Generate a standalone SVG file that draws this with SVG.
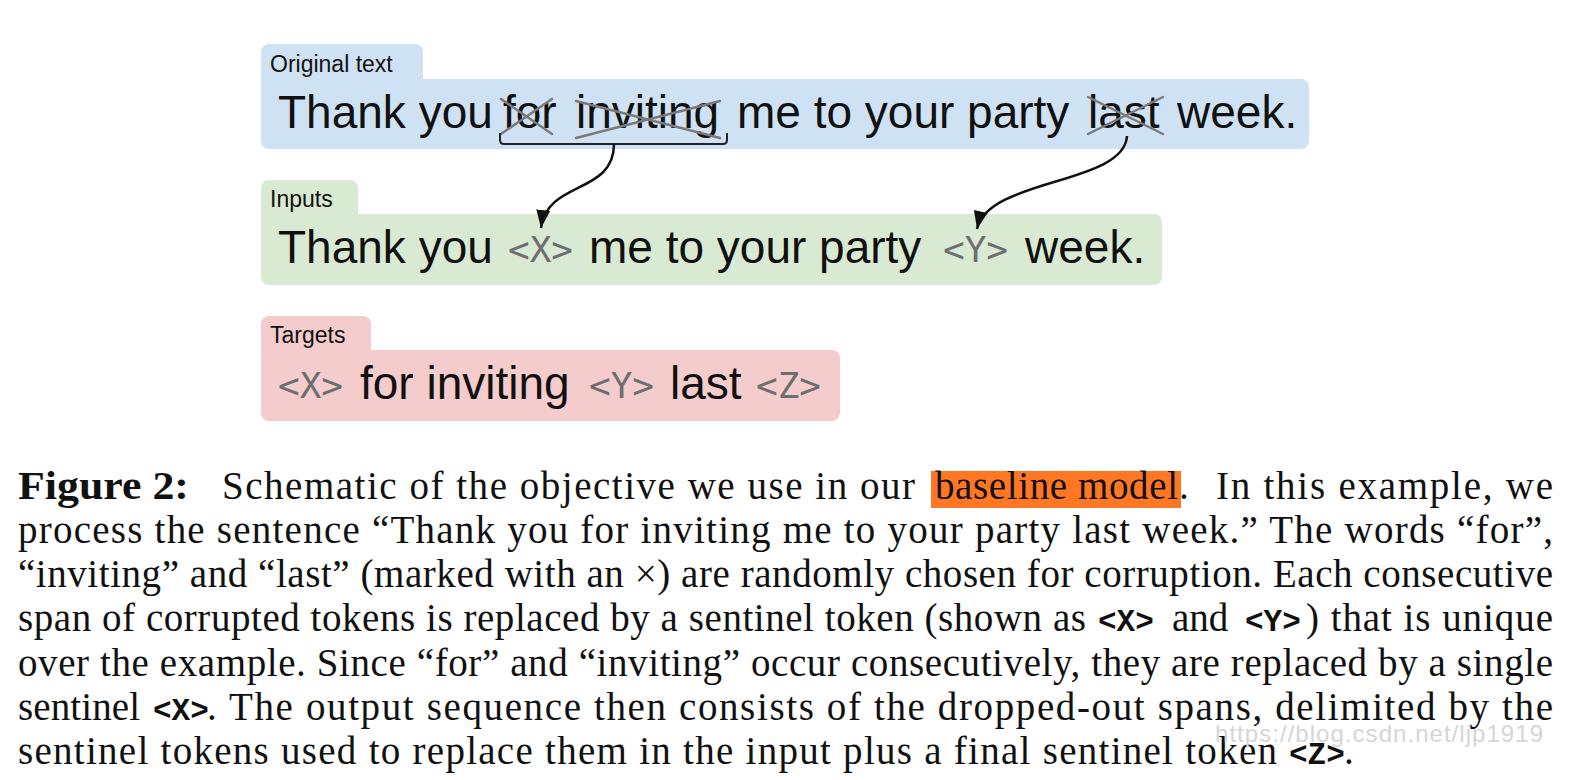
<svg xmlns="http://www.w3.org/2000/svg" width="1594" height="780" viewBox="0 0 1594 780">
<defs>
<style>
.lbl{font-family:"Liberation Sans",Arial,sans-serif;font-size:23px;fill:#111}
.big{font-family:"Liberation Sans",Arial,sans-serif;font-size:46px;fill:#111}
.sen{font-family:"DejaVu Sans Mono",monospace;font-size:36px;fill:#6e6e6e}
.cap{font-family:"Liberation Serif","Times New Roman",serif;font-size:39px;fill:#111}
.capb{font-family:"Liberation Serif","Times New Roman",serif;font-size:39px;font-weight:bold;fill:#111}
.tt{font-family:"Liberation Mono","Courier New",monospace;font-size:31px;font-weight:bold;fill:#111}
.strike{stroke:#7a7a7a;stroke-width:2.5;fill:none;stroke-linecap:round}
.conn{stroke:#111;stroke-width:2.5;fill:none}
.wm{font-family:"Liberation Sans",Arial,sans-serif;font-size:24px;fill:#d6d6d6}
</style>
<marker id="arr" markerUnits="userSpaceOnUse" markerWidth="20" markerHeight="20" viewBox="0 0 20 20" refX="18" refY="10" orient="auto">
<path d="M0,3 L18,10 L0,17 Z" fill="#111"/>
</marker>
</defs>
<rect width="1594" height="780" fill="#fff"/>

<g id="original">
<rect x="261" y="44" width="162" height="50" rx="8" fill="#cfe2f3"/>
<rect x="261" y="79" width="1048" height="70" rx="8" fill="#cfe2f3"/>
<text class="lbl" x="270" y="72">Original text</text>
<text class="big" y="128"><tspan x="278">Thank you</tspan><tspan x="503">for</tspan><tspan x="576">inviting</tspan><tspan x="737">me to your party</tspan><tspan x="1088">last</tspan><tspan x="1177">week.</tspan></text>
<path class="strike" d="M501,99 L552,134 M501,134 L552,99"/>
<path class="strike" d="M576,101 L720,138 M576,138 L720,101"/>
<path class="strike" d="M1088,97 L1163,134 M1088,134 L1163,97"/>
</g>

<g id="inputs">
<rect x="261" y="180" width="97" height="45" rx="8" fill="#d9ead3"/>
<rect x="261" y="214" width="901" height="71" rx="8" fill="#d9ead3"/>
<text class="lbl" x="270" y="207">Inputs</text>
<text class="big" y="263"><tspan x="278">Thank you</tspan><tspan x="589">me to your party</tspan><tspan x="1025">week.</tspan></text>
<text class="sen" y="262"><tspan x="508">&lt;X&gt;</tspan><tspan x="943">&lt;Y&gt;</tspan></text>
</g>

<g id="targets">
<rect x="261" y="316" width="110" height="45" rx="8" fill="#f4cccc"/>
<rect x="261" y="350" width="579" height="71" rx="8" fill="#f4cccc"/>
<text class="lbl" x="270" y="343">Targets</text>
<text class="big" y="399"><tspan x="360">for inviting</tspan><tspan x="670">last</tspan></text>
<text class="sen" y="398"><tspan x="278">&lt;X&gt;</tspan><tspan x="589">&lt;Y&gt;</tspan><tspan x="756">&lt;Z&gt;</tspan></text>
</g>

<g id="connectors">
<path d="M500,133 L500,140 Q500,144 504,144 L723,144 Q727,144 727,140 L727,133" stroke="#222" stroke-width="2" fill="none"/>
<path class="conn" d="M614,144 C614,195 547,180 541,228" marker-end="url(#arr)"/>
<path class="conn" d="M1127,136 C1124,185 988,178 977,229" marker-end="url(#arr)"/>
</g>

<g id="caption">
<rect x="931" y="471" width="250" height="37" fill="#ff7722"/>
<text class="capb" x="18" y="499" textLength="171" lengthAdjust="spacingAndGlyphs">Figure 2:</text>
<text class="cap" x="222" y="499" textLength="693">Schematic of the objective we use in our</text>
<text class="cap" x="935" y="499" textLength="243">baseline model</text>
<text class="cap" x="1179" y="499">.</text>
<text class="cap" x="1216" y="499" textLength="337">In this example, we</text>
<text class="cap" x="18" y="543" textLength="1535">process the sentence “Thank you for inviting me to your party last week.” The words “for”,</text>
<text class="cap" x="18" y="587" textLength="1535">“inviting” and “last” (marked with an ×) are randomly chosen for corruption. Each consecutive</text>
<text class="cap" x="18" y="631" textLength="1068">span of corrupted tokens is replaced by a sentinel token (shown as</text>
<text class="tt" x="1098" y="631">&lt;X&gt;</text>
<text class="cap" x="1172" y="631">and</text>
<text class="tt" x="1245" y="631">&lt;Y&gt;</text>
<text class="cap" x="1306" y="631" textLength="247">) that is unique</text>
<text class="cap" x="18" y="676" textLength="1535">over the example. Since “for” and “inviting” occur consecutively, they are replaced by a single</text>
<text class="cap" x="18" y="720" textLength="122">sentinel</text>
<text class="tt" x="153" y="720">&lt;X&gt;</text>
<text class="cap" x="207" y="720" textLength="1346">. The output sequence then consists of the dropped-out spans, delimited by the</text>
<text class="cap" x="18" y="764" textLength="1259">sentinel tokens used to replace them in the input plus a final sentinel token</text>
<text class="tt" x="1289" y="764">&lt;Z&gt;</text>
<text class="cap" x="1344" y="764">.</text>
<text class="wm" x="1215" y="742" textLength="328">https://blog.csdn.net/ljp1919</text>
</g>
</svg>
